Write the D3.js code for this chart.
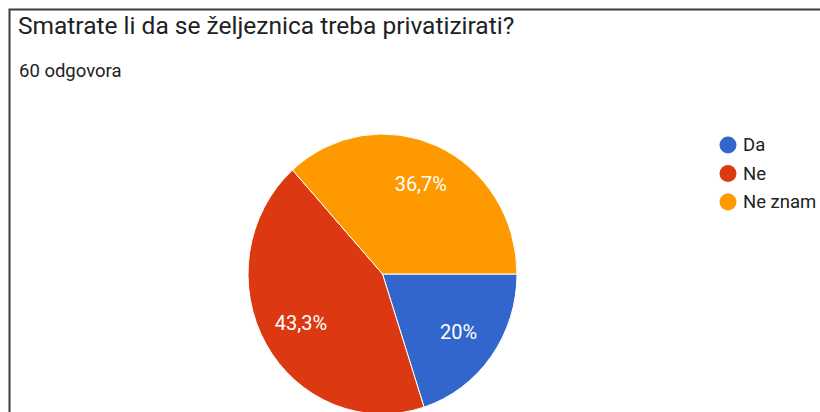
<!DOCTYPE html>
<html>
<head>
<meta charset="utf-8">
<script src="https://cdn.jsdelivr.net/npm/d3@7"></script>
<style>
  html, body { margin: 0; padding: 0; background: #fff; }
  svg { display: block; font-family: Roboto, Arial, sans-serif; }
</style>
</head>
<body>
<svg id="chart" width="820" height="412"></svg>
<script>
// Survey answers
const categories = ["Da", "Ne", "Ne znam"];
const responses = [12, 26, 22];
const percentLabels = ["20%", "43,3%", "36,7%"];
const colors = ["#3366cc", "#dc3912", "#ff9900"];
const titleText = "Smatrate li da se željeznica treba privatizirati?";
const subtitleText = "60 odgovora";

const svg = d3.select("#chart");

// Frame around the card
svg.append("path")
  .attr("d", "M820,9.5 H9.5 V412")
  .attr("fill", "none")
  .attr("stroke", "#3c3c3c")
  .attr("stroke-width", 2);

svg.append("text")
  .attr("x", 18).attr("y", 34)
  .attr("font-size", 24.5)
  .attr("fill", "#202124")
  .text(titleText);

svg.append("text")
  .attr("x", 19).attr("y", 77)
  .attr("font-size", 18.5)
  .attr("fill", "#202124")
  .text(subtitleText);

// Pie (drawn slightly taller than wide)
const cx = 382.5, cy = 274, rx = 134.5, ry = 140;
const pie = d3.pie()
  .sort(null)
  .startAngle(Math.PI / 2)
  .endAngle(Math.PI / 2 + 2 * Math.PI)
  .value(d => d);
const arcs = pie(responses);
const arc = d3.arc().innerRadius(0).outerRadius(rx);
const labelArc = d3.arc().innerRadius(rx * 0.7).outerRadius(rx * 0.7);

const g = svg.append("g").attr("transform", `translate(${cx},${cy})`);
g.append("g")
  .attr("transform", `scale(1,${ry / rx})`)
  .selectAll("path.slice")
  .data(arcs)
  .join("path")
  .attr("class", "slice")
  .attr("d", arc)
  .attr("fill", (d, i) => colors[i])
  .attr("stroke", "#fff")
  .attr("stroke-width", 1)
  .attr("vector-effect", "non-scaling-stroke");

g.selectAll("text.pct")
  .data(arcs)
  .join("text")
  .attr("class", "pct")
  .attr("transform", d => {
    const [x, y] = labelArc.centroid(d);
    return `translate(${x},${y * ry / rx})`;
  })
  .attr("text-anchor", "middle")
  .attr("dy", "0.35em")
  .attr("font-size", 20)
  .attr("fill", "#fff")
  .text((d, i) => percentLabels[i]);

// Legend
const legend = svg.append("g").attr("transform", "translate(728,145)");
const items = legend.selectAll("g")
  .data(categories)
  .join("g")
  .attr("transform", (d, i) => `translate(0,${i * 28.5})`);
items.append("circle")
  .attr("r", 8.5)
  .attr("fill", (d, i) => colors[i]);
items.append("text")
  .attr("x", 15)
  .attr("dy", "0.35em")
  .attr("font-size", 18.5)
  .attr("fill", "#222")
  .text(d => d);
</script>
</body>
</html>
